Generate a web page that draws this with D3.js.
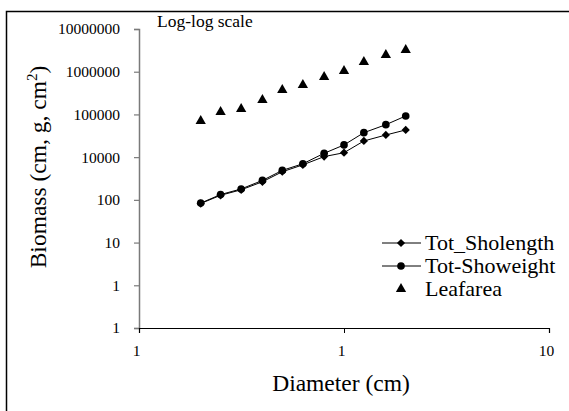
<!DOCTYPE html>
<html>
<head>
<meta charset="utf-8">
<script src="https://cdn.jsdelivr.net/npm/d3@7"></script>
</head>
<body style="margin:0; background:#fff">
<svg id="chart" width="569" height="411" style="display:block"></svg>
<script>
"use strict";

// chart data
const diameters = [0.2, 0.25, 0.315, 0.4, 0.5, 0.63, 0.8, 1, 1.25, 1.6, 2];
const sholength = [820, 1280, 1720, 2650, 4550, 6600, 10300, 12700, 23900, 33000, 43300];
const showeight = [840, 1330, 1800, 2850, 4900, 7000, 12300, 19300, 37400, 57500, 92000];
const leafarea = [70300, 114000, 134000, 218000, 374000, 489000, 753000, 1040000, 1690000, 2470000, 3230000];

const xTickValues = [0.1, 1, 10];
const xTickLabels = ["1", "1", "10"];
const yTickValues = [1, 10, 100, 1e3, 1e4, 1e5, 1e6, 1e7];
const yTickLabels = ["1", "1", "10", "100", "10000", "100000", "1000000", "10000000"];

const seriesNames = ["Tot_Sholength", "Tot-Showeight", "Leafarea"];

const SERIF = "Liberation Serif";

const svg = d3.select("#chart");

// outer chart border (runs off the right and bottom of the picture)
svg.append("rect")
    .attr("x", 6.5).attr("y", 11.5)
    .attr("width", 600).attr("height", 450)
    .attr("fill", "none")
    .attr("stroke", "#000")
    .attr("stroke-width", 1.5);

const x = d3.scaleLog().domain([0.1, 10]).range([139, 549]);
const y = d3.scaleLog().domain([1, 1e7]).range([328, 29]);

// y axis (grey line, ticks to the left)
const yAxis = svg.append("g")
    .attr("transform", `translate(${x.range()[0]},0)`)
    .call(d3.axisLeft(y)
        .tickValues(yTickValues)
        .tickFormat((d, i) => yTickLabels[i])
        .tickSizeOuter(0)
        .tickSize(5)
        .tickPadding(14));
yAxis.select(".domain").attr("stroke", "#7a7a7a").attr("stroke-width", 1.5);
yAxis.selectAll(".tick line").attr("stroke", "#7a7a7a").attr("stroke-width", 1.2);
yAxis.selectAll(".tick text").attr("fill", "#000").style("font-size", "15.5px");

// x axis (black line, ticks down)
const xAxis = svg.append("g")
    .attr("transform", `translate(0,${y.range()[0]})`)
    .call(d3.axisBottom(x)
        .tickValues(xTickValues)
        .tickFormat((d, i) => xTickLabels[i])
        .tickSizeOuter(0)
        .tickSize(5)
        .tickPadding(12));
xAxis.select(".domain").attr("stroke", "#000").attr("stroke-width", 1.2);
xAxis.selectAll(".tick line").attr("stroke", "#000");
xAxis.selectAll(".tick text").attr("fill", "#000").attr("dx", -3).style("font-size", "15.5px");

// axis titles
svg.append("text")
    .attr("x", 341).attr("y", 391)
    .attr("text-anchor", "middle")
    .style("font-size", "23.5px")
    .text("Diameter (cm)");

const yTitle = svg.append("text")
    .attr("transform", "translate(46,167) rotate(-90)")
    .attr("text-anchor", "middle")
    .style("font-size", "23.5px");
yTitle.append("tspan").text("Biomass (cm, g, cm");
yTitle.append("tspan").attr("dy", -9).style("font-size", "15px").text("2");
yTitle.append("tspan").attr("dy", 9).text(")");

svg.append("text")
    .attr("x", 157).attr("y", 27)
    .style("font-size", "17.5px")
    .text("Log-log scale");

// series
const diamond = d3.symbol().type(d3.symbolSquare).size(34)();
const circle = d3.symbol().type(d3.symbolCircle).size(46)();
const triangle = d3.symbol().type(d3.symbolTriangle).size(46)();

const line = d3.line().x(d => x(d[0])).y(d => y(d[1]));

const series = [
    { name: seriesNames[0], values: sholength, marker: diamond, rot: 45, line: true },
    { name: seriesNames[1], values: showeight, marker: circle, rot: 0, line: true },
    { name: seriesNames[2], values: leafarea, marker: triangle, rot: 0, line: false },
];

const plot = svg.append("g");
for (const s of series) {
    const pts = diameters.map((d, i) => [d, s.values[i]]);
    if (s.line) {
        plot.append("path")
            .attr("d", line(pts))
            .attr("fill", "none")
            .attr("stroke", "#000")
            .attr("stroke-width", 1);
    }
    plot.selectAll(null)
        .data(pts)
        .join("path")
        .attr("d", s.marker)
        .attr("transform", d => `translate(${x(d[0])},${y(d[1])}) rotate(${s.rot})`)
        .attr("fill", "#000");
}

// legend
const legend = svg.append("g").attr("transform", "translate(401,243)");
const rows = legend.selectAll("g")
    .data(series)
    .join("g")
    .attr("transform", (d, i) => `translate(0,${i * 23})`);
rows.filter(d => d.line)
    .append("line")
    .attr("x1", -19).attr("x2", 20)
    .attr("stroke", "#000");
rows.append("path")
    .attr("d", d => d.marker)
    .attr("transform", d => `rotate(${d.rot})`)
    .attr("fill", "#000");
rows.append("text")
    .attr("x", 24).attr("y", 6.5)
    .style("font-size", "22px")
    .text(d => d.name);

// every text in a Times-like serif
svg.selectAll("text").style("font-family", SERIF);
</script>
</body>
</html>
